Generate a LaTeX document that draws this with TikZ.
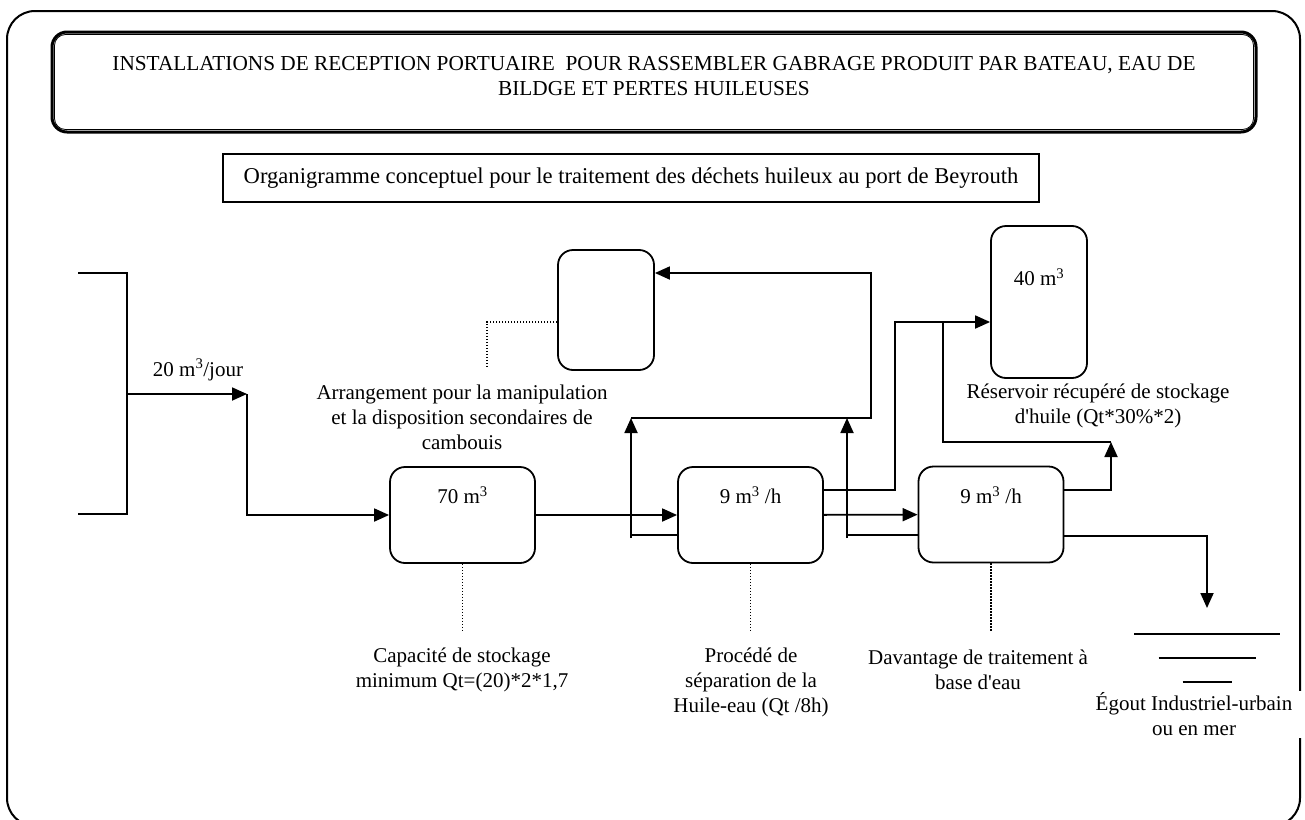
\documentclass[tikz,border=0pt]{standalone}
\usepackage{fontspec}
\setmainfont{Liberation Serif}
\usetikzlibrary{arrows.meta}

\begin{document}
\begin{tikzpicture}[
                x=1pt, y=-1pt,
                font=\fontsize{21}{25}\selectfont,
                line width=1.8pt,
                headbox/.style={draw, rounded corners=15, line width=3pt, minimum width=1204, minimum height=100},
                vessel/.style={draw, rounded corners=15, minimum width=145, minimum height=96, inner sep=0},
                caption/.style={align=center, inner sep=2pt},
                leader/.style={line width=1.2pt, dash pattern=on 1.4pt off 1.6pt},
                ->, >={Triangle[length=15pt,width=13pt]}
            ]
            \useasboundingbox (0,0) rectangle (1305,819);

            % Frame and headings
            \draw[-, rounded corners=28, line width=2pt] (7,11) rectangle (1300,826);
            \node[headbox] (head) at (654,82) {};
            \draw[-, rounded corners=11, line width=0.8pt] ([shift={(4,4)}]head.north west) rectangle ([shift={(-4,-4)}]head.south east);
            \node[align=center, font=\fontsize{21.3}{25.5}\selectfont] (headText) at (654,76) {INSTALLATIONS DE RECEPTION PORTUAIRE\ \ POUR RASSEMBLER GABRAGE PRODUIT PAR BATEAU, EAU DE\\BILDGE ET PERTES HUILEUSES};
            \node[draw, line width=2pt, minimum width=816, minimum height=48, font=\fontsize{22.6}{26}\selectfont] (subtitle) at (631,178) {Organigramme conceptuel pour le traitement des déchets huileux au port de Beyrouth};

            % Nodes
            \node[vessel] (tank) at (462.5,515) {};
            \node[vessel] (sep) at (750.5,515) {};
            \node[vessel] (treat) at (991,514.5) {};
            \node[vessel, minimum width=96, minimum height=120] (sludge) at (606,310) {};
            \node[vessel, minimum width=96, minimum height=152] (oil) at (1039,302) {};

            \node (tankQ) at (462.5,495) {70 m\textsuperscript{3}};
            \node (sepQ) at (750.5,495) {9 m\textsuperscript{3} /h};
            \node (treatQ) at (991,495) {9 m\textsuperscript{3} /h};
            \node (oilQ) at (1039,277) {40 m\textsuperscript{3}};

            % Captions
            \node[caption] (feedLbl) at (198,370) {20 m\textsuperscript{3}/jour};
            \node[caption] (tankLbl) at (462,669.5) {Capacité de stockage\\minimum Qt=(20)*2*1,7};
            \node[caption] (sepLbl) at (751,682) {Procédé de\\séparation de la\\Huile-eau (Qt /8h)};
            \node[caption] (treatLbl) at (978,669.5) {Davantage de traitement à\\base d\textquotesingle eau};
            \node[caption] (sludgeLbl) at (462,417) {Arrangement pour la manipulation\\et la disposition secondaires de\\cambouis};
            \node[caption] (oilLbl) at (1098,405.5) {Réservoir récupéré de stockage\\d\textquotesingle huile (Qt*30\%*2)};

            % Inlet
            \coordinate (inA) at (78,273);
            \coordinate (inB) at (127,273);
            \coordinate (inC) at (127,514);
            \coordinate (inD) at (78,514);
            \coordinate (inMid) at (127,394);
            \coordinate (feed) at (247,394);
            \draw[-] (inA) -- (inB) -- (inC) -- (inD);
            \draw (inMid) -- (feed);
            \draw (feed) |- (tank);

            % Edges
            \draw (tank) -- (sep);
            \draw (sep) -- (treat);

            % Sludge return
            \coordinate (jL) at (631,535);
            \coordinate (jR) at (847,535);
            \coordinate (retL) at (631,418);
            \coordinate (retR) at (847,418);
            \coordinate (ret) at (871,418);
            \coordinate (retUp) at (871,273);
            \draw[-] (jL) -- (jL -| sep.west);
            \draw[-] (jR) -- (jR -| treat.west);
            \draw ([yshift=-3pt]jL) -- (retL);
            \draw ([yshift=-3pt]jR) -- (retR);
            \draw (retL) -- (ret) -- (retUp) -- (retUp -| sludge.east);

            % Oil recovery
            \coordinate (oilUp) at (895,490);
            \coordinate (oilTop) at (895,322);
            \coordinate (oilBr) at (943,322);
            \coordinate (oilBrLow) at (943,442);
            \coordinate (oilRet) at (1111,442);
            \draw ([yshift=25pt]sep.east) -- (oilUp) -- (oilTop) -- (oilTop -| oil.west);
            \draw[-] (oilBr) -- (oilBrLow) -- (oilRet);
            \draw ([yshift=24.5pt]treat.east) -| (oilRet);

            % Outfall
            \coordinate (drain) at (1207,608);
            \draw ([yshift=-21.5pt]treat.east) -| (drain);
            \foreach \y/\w in {634/73, 658/48.5, 682/24.5}
                \draw[-] (1207-\w,\y) -- (1207+\w,\y);
            \node[caption, fill=white, minimum width=222] (drainLbl) at (1194,714.5) {Égout Industriel-urbain\\ou en mer};

            % Leaders
            \draw[leader, -] (tank.south) -- ++(0,68);
            \draw[leader, -] (sep.south) -- ++(0,68);
            \draw[leader, -] (treat.south) -- ++(0,68);
            \draw[leader, -] ([yshift=-12pt]sludge.west) -| (487,367);

            \end{tikzpicture}
\end{document}
